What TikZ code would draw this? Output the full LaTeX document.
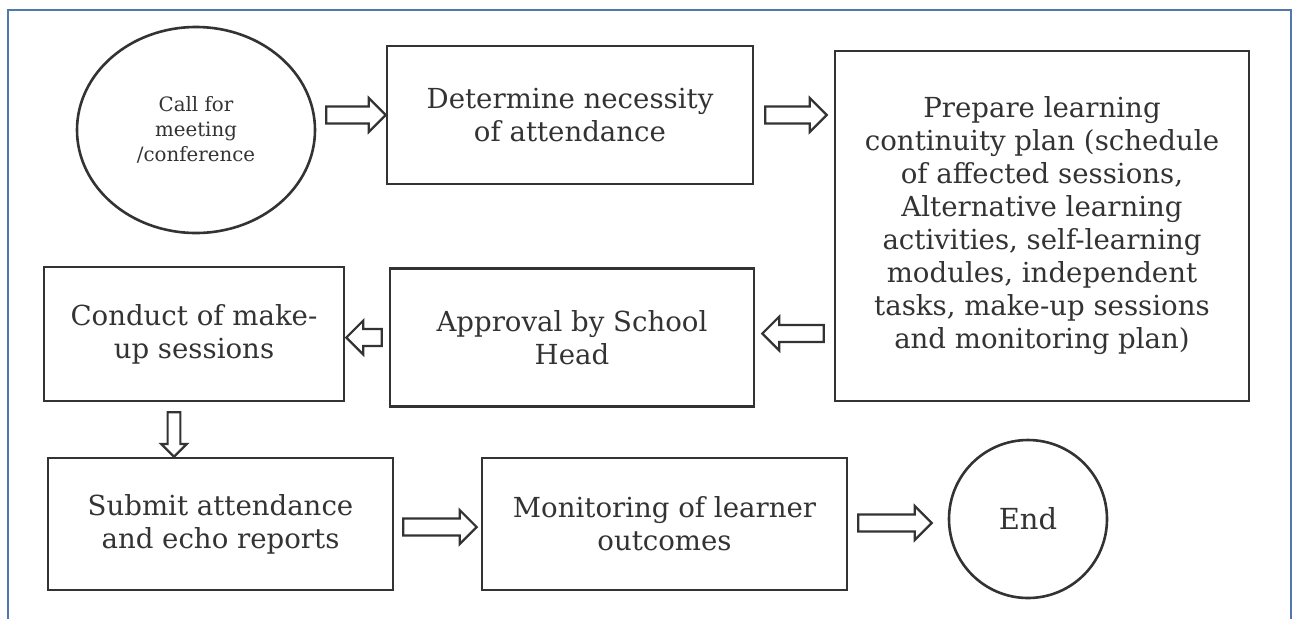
\documentclass[tikz,border=0pt]{standalone}
\usepackage{fontspec}
\setmainfont{DejaVu Serif}
\usepackage{xcolor}
\usetikzlibrary{shapes,calc}
\definecolor{inkgray}{HTML}{333333}
\definecolor{frameblue}{HTML}{5276AE}

\newcommand{\flowarrow}[3][1]{%
    \path #2 coordinate (fa-s) #3 coordinate (fa-e);
    \path ($(fa-e)!#1*8.5pt!(fa-s)$) coordinate (fa-b);
    \draw[hollow] ($(fa-s)!#1*4.25pt!90:(fa-e)$) -- ($(fa-b)!#1*4.25pt!90:(fa-e)$)
        -- ($(fa-b)!#1*8.5pt!90:(fa-e)$) -- (fa-e)
        -- ($(fa-b)!#1*8.5pt!-90:(fa-e)$) -- ($(fa-b)!#1*4.25pt!-90:(fa-e)$)
        -- ($(fa-s)!#1*4.25pt!-90:(fa-e)$) -- cycle;
}

\begin{document}
\begin{tikzpicture}[x=0.5pt, y=-0.5pt, line width=1.3pt, draw=inkgray, text=inkgray,
    box/.style={rectangle, draw, inner sep=2pt, align=center, font=\fontsize{13.8}{16.5}\selectfont},
    hollow/.style={draw=inkgray, line width=1.1pt, line join=miter, fill=white}]
    \useasboundingbox (0,0) rectangle (1296,618);
    \draw[frameblue, line width=1.1pt] (8,10) rectangle (1291,660);

    \node[ellipse, draw, minimum width=119pt, minimum height=103pt, align=center,
        font=\fontsize{9.9}{12.5}\selectfont] (call) at (196,130) {Call for\\meeting\\/conference};
    \node[box, minimum width=183pt, minimum height=69pt] (det) at (570,115)
        {Determine necessity\\of attendance};
    \node[box, minimum width=207pt, minimum height=175pt] (plan) at (1042,226)
        {Prepare learning\\continuity plan (schedule\\of affected sessions,\\Alternative learning\\activities, self-learning\\modules, independent\\tasks, make-up sessions\\and monitoring plan)};
    \node[box, minimum width=182pt, minimum height=69pt] (appr) at (572,337.5)
        {Approval by School\\Head};
    \node[box, minimum width=150pt, minimum height=67pt] (conduct) at (194,334)
        {Conduct of make-\\up sessions};
    \node[box, minimum width=172.5pt, minimum height=66pt] (submit) at (220.5,524)
        {Submit attendance\\and echo reports};
    \node[box, minimum width=182.5pt, minimum height=66pt] (monit) at (664.5,524)
        {Monitoring of learner\\outcomes};
    \node[circle, draw, minimum size=79pt, inner sep=0pt,
        font=\fontsize{14.5}{17}\selectfont] (fin) at (1028,519) {End};

    \flowarrow{($(call.east|-det.west)+(10,0)$)}{(det.west)}
    \flowarrow{($(det.east)+(11,0)$)}{($(plan.west|-det.east)+(-7,0)$)}
    \flowarrow{($(plan.west|-appr.east)+(-10,-4)$)}{($(appr.east)+(7,-4)$)}
    \flowarrow{($(appr.west)+(-7,0)$)}{($(conduct.east|-appr.west)+(1,0)$)}
    \flowarrow[0.75]{($(conduct.south)+(-20,10)$)}{($(conduct.south|-submit.north)+(-20,0)$)}
    \flowarrow{($(submit.east)+(9,3)$)}{($(monit.west)+(-4,3)$)}
    \flowarrow{($(monit.east)+(10,-1)$)}{($(monit.east-|fin.west)+(-16,-1)$)}
\end{tikzpicture}
\end{document}
